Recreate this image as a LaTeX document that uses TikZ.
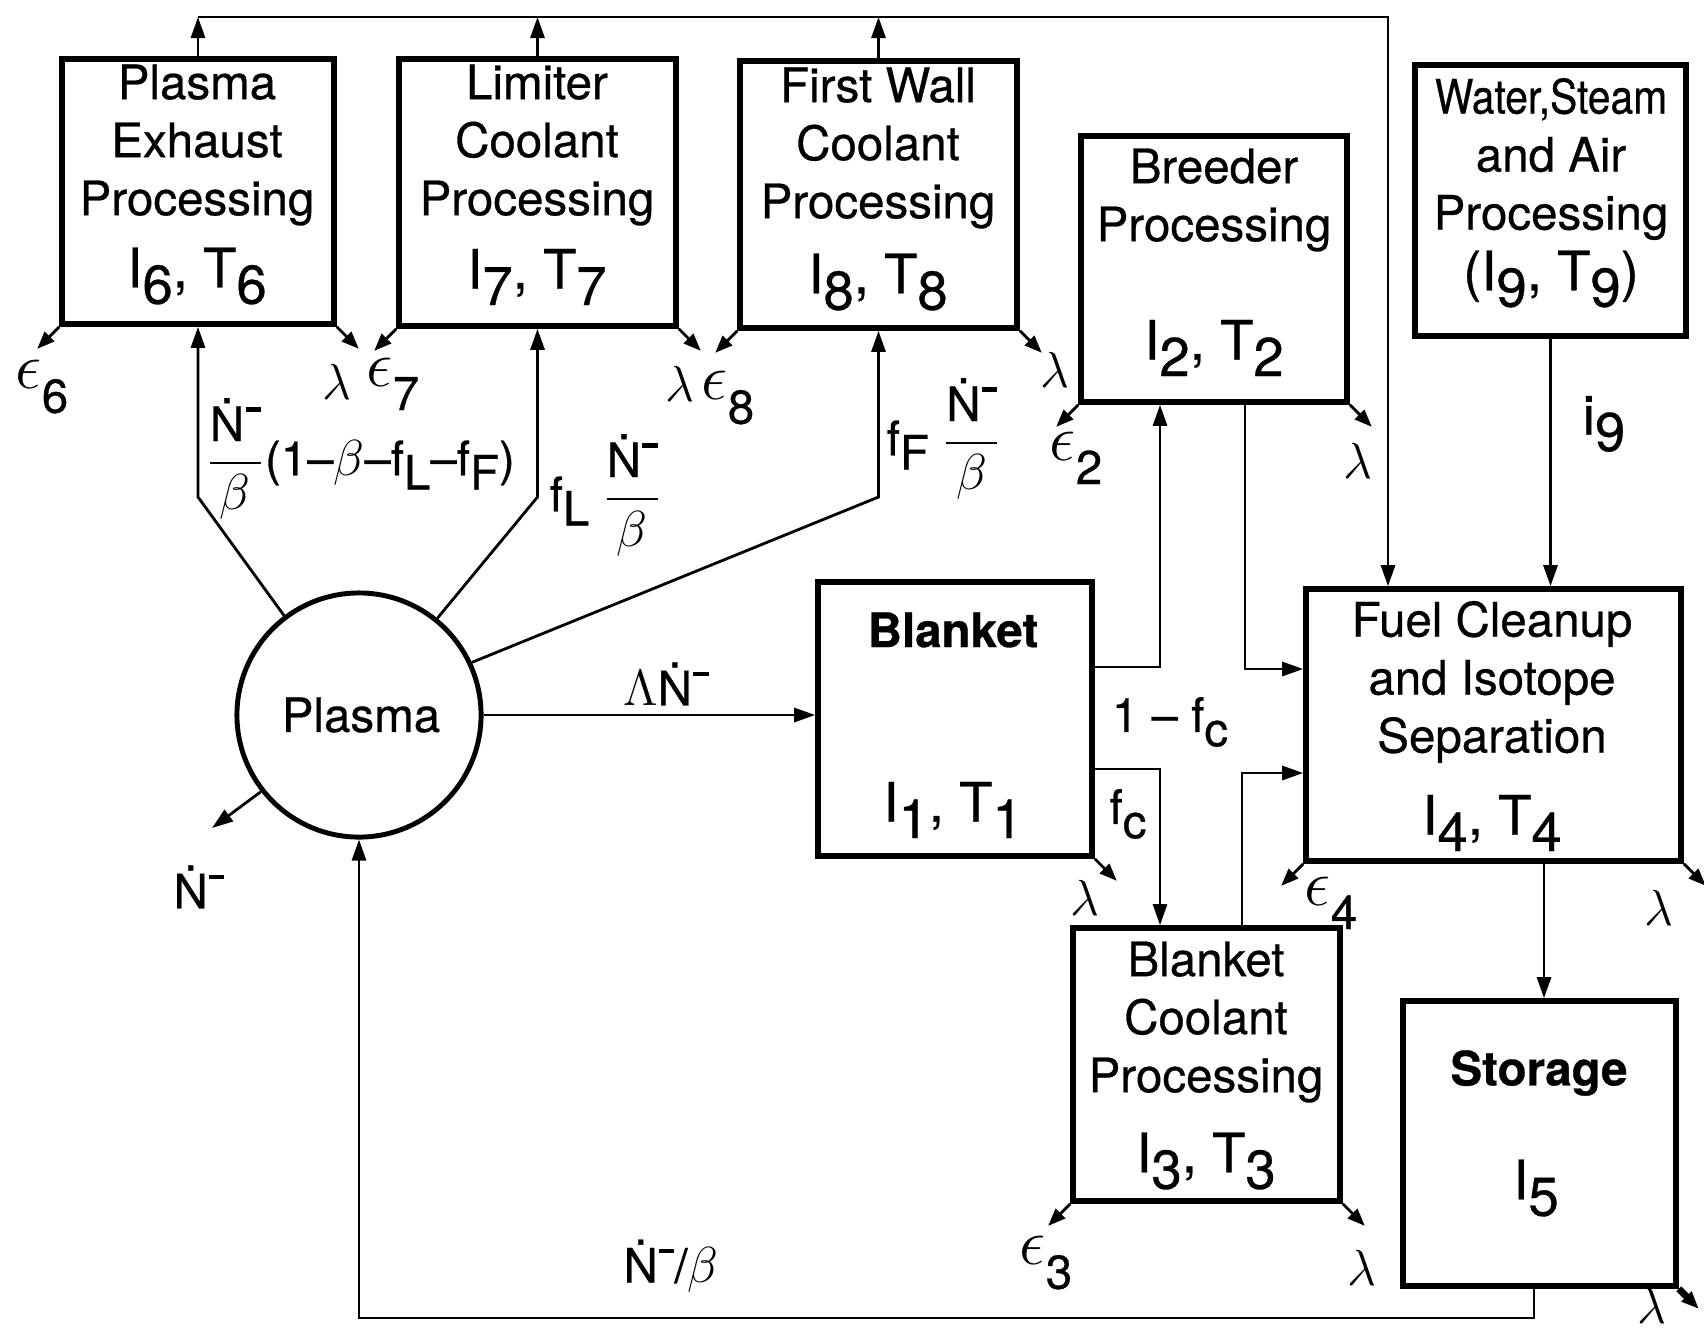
\documentclass[tikz,border=0pt]{standalone}
\usepackage{fontspec}
\usepackage{amsmath}
\usepackage{graphicx}
\setmainfont{TeX Gyre Heros}[FakeBold=0.6]
\usetikzlibrary{arrows.meta,fit}
\newcommand\lo[1]{\raisebox{-0.3em}{#1}}
\newcommand\epsub[1]{\raisebox{0.05em}{\scalebox{1.3}{$\epsilon$}}\raisebox{-0.45em}{#1}}
\newcommand\Nd{\.N\kern0.03em\raisebox{0.62em}{\rule{0.32em}{0.09em}}}
\newcommand\Nb{$\dfrac{\mbox{\Nd}}{\beta}$}
\begin{document}
\begin{tikzpicture}[x=0.01cm,y=-0.01cm,
  box/.style={draw, line width=1.6pt, inner sep=0pt},
  conn/.style={line width=0.8pt},
  arr/.style={conn, -{Triangle[length=6pt,width=4pt]}},
  outarr/.style={conn, -{Triangle[length=5pt,width=3.8pt]}},
  txt/.style={font=\fontsize{13.5}{16.5}\selectfont, align=center, inner sep=0pt},
  idx/.style={font=\fontsize{15.5}{18}\selectfont, inner sep=0pt},
  lab/.style={font=\fontsize{13.5}{16}\selectfont, inner sep=0pt},
  bold/.style={font=\fontsize{13.5}{16.5}\selectfont\bfseries, inner sep=0pt}]
\useasboundingbox (0,0) rectangle (1704,1339);

% boxes
\node[box, fit={(62,59)(334,324)}] (pe) {};
\node[box, fit={(399,59)(676,326)}] (li) {};
\node[box, fit={(740,61)(1017,328)}] (fw) {};
\node[box, fit={(1081,136)(1347,402)}] (br) {};
\node[box, fit={(1415,65)(1686,336)}] (wa) {};
\node[box, fit={(818,582)(1092,856)}] (bl) {};
\node[box, fit={(1306,589)(1681,861)}] (fc) {};
\node[box, fit={(1073,928)(1340,1201)}] (bc) {};
\node[box, fit={(1403,1001)(1676,1286)}] (st) {};
\node[draw, circle, line width=1.4pt, minimum size=2.44cm, inner sep=0pt] (pl) at (359,715) {};

% box texts
\node[txt] (tpe) at (197,145) {Plasma\\Exhaust\\Processing};
\node[idx] (ipe) at (197,276) {I\lo{6}, T\lo{6}};
\node[txt] (tli) at (537,145) {Limiter\\Coolant\\Processing};
\node[idx] (ili) at (537,277) {I\lo{7}, T\lo{7}};
\node[txt] (tfw) at (878,148) {First Wall\\Coolant\\Processing};
\node[idx] (ifw) at (878,282) {I\lo{8}, T\lo{8}};
\node[txt] (tbr) at (1214,200) {Breeder\\Processing};
\node[idx] (ibr) at (1214,348) {I\lo{2}, T\lo{2}};
\node[txt] (twa) at (1551,159) {\scalebox{0.86}[1]{Water,Steam}\\and Air\\Processing};
\node[idx] (iwa) at (1551,279) {(I\lo{9}, T\lo{9})};
\node[bold] (tbl) at (953,630) {Blanket};
\node[idx] (ibl) at (953,810) {I\lo{1}, T\lo{1}};
\node[txt] (tfc) at (1492,682) {Fuel Cleanup\\and Isotope\\Separation};
\node[idx] (ifc) at (1492,823) {I\lo{4}, T\lo{4}};
\node[txt] (tbc) at (1206,1022) {Blanket\\Coolant\\Processing};
\node[idx] (ibc) at (1206,1161) {I\lo{3}, T\lo{3}};
\node[bold] (tst) at (1539,1073) {Storage};
\node[idx] (ist) at (1536,1188) {I\lo{5}};
\node[txt] (tpl) at (361,715) {Plasma};

% top collector line
\coordinate (t1) at (198,17);
\coordinate (t4) at (1388,17);
\draw[arr] (pe.north) -- (pe.north |- t1);
\draw[arr] (li.north) -- (li.north |- t1);
\draw[arr] (fw.north) -- (fw.north |- t1);
\draw[arr] (t1) -- (t4) -- (t4 |- fc.north);

% water to fuel cleanup
\draw[arr] (wa.south) -- (wa.south |- fc.north);
\node[idx] (li9) at (1604,424) {i\lo{9}};

% plasma outputs
\coordinate (k) at (0,497);
\draw[arr] (pl.127) -- (pe.south |- k) -- (pe.south);
\draw[arr] (pl.51) -- (li.south |- k) -- (li.south);
\draw[arr] (pl.25) -- (fw.south |- k) -- (fw.south);
\draw[arr] (pl.east) -- (pl.east -| bl.west);
\coordinate (nout) at (212,828);
\draw[arr] (pl.218) -- (nout);

% blanket and coolant network
\coordinate (a1) at (1160,667);
\draw[arr] (bl.east |- a1) -- (a1) -- (a1 |- br.south);
\coordinate (a2) at (1245,669);
\draw[arr] (a2 |- br.south) -- (a2) -- (a2 -| fc.west);
\coordinate (a3) at (1160,769);
\draw[arr] (bl.east |- a3) -- (a3) -- (a3 |- bc.north);
\coordinate (a4) at (1242,773);
\draw[arr] (a4 |- bc.north) -- (a4) -- (a4 -| fc.west);

% fuel cleanup to storage, storage back to plasma
\coordinate (a5) at (1544,0);
\draw[arr] (a5 |- fc.south) -- (a5 |- st.north);
\coordinate (a6) at (1534,1318);
\draw[arr] (a6 |- st.south) -- (a6) -- (a6 -| pl.south) -- (pl.south);

% loss arrows
\draw[outarr] (pe.south west) -- ++(-22,22);
\draw[outarr] (pe.south east) -- ++(22,22);
\draw[outarr] (li.south west) -- ++(-22,22);
\draw[outarr] (li.south east) -- ++(22,22);
\draw[outarr] (fw.south west) -- ++(-22,22);
\draw[outarr] (fw.south east) -- ++(22,22);
\draw[outarr] (br.south west) -- ++(-22,22);
\draw[outarr] (br.south east) -- ++(22,22);
\draw[outarr] (bl.south east) -- ++(22,22);
\draw[outarr] (fc.south west) -- ++(-22,22);
\draw[outarr] (fc.south east) -- ++(22,22);
\draw[outarr] (bc.south west) -- ++(-22,22);
\draw[outarr] (bc.south east) -- ++(22,22);
\draw[outarr, line width=2pt] (st.south east) -- ++(20,20);

% loss labels
\node[lab] (e6) at (42,387) {\epsub{6}};
\node[lab] (l6) at (337,382) {$\lambda$};
\node[lab] (e7) at (393,384) {\epsub{7}};
\node[lab] (l7) at (680,384) {$\lambda$};
\node[lab] (e8) at (728,398) {\epsub{8}};
\node[lab] (l8) at (1055,370) {$\lambda$};
\node[lab] (e2) at (1076,458) {\epsub{2}};
\node[lab] (l2) at (1358,461) {$\lambda$};
\node[lab] (l1) at (1085,898) {$\lambda$};
\node[lab] (e4) at (1331,903) {\epsub{4}};
\node[lab] (l4) at (1659,908) {$\lambda$};
\node[lab] (e3) at (1046,1263) {\epsub{3}};
\node[lab] (l3) at (1362,1268) {$\lambda$};
\node[lab] (l5) at (1652,1306) {$\lambda$};

% flow labels
\node[lab, anchor=west] (fpe) at (205,459) {\Nb(1--$\beta$--f\lo{L}--f\lo{F})};
\node[lab, anchor=west] (fli) at (549,495) {f\lo{L} \Nb};
\node[lab, anchor=west] (ffw) at (886,439) {f\lo{F} \Nb};
\node[lab] (fbl) at (666,684) {$\Lambda$\Nd};
\node[lab] (fn) at (199,887) {\Nd};
\node[lab] (fret) at (671,1266) {\Nd/$\beta$};
\node[lab] (f1c) at (1170,722) {1 -- f\lo{c}};
\node[lab] (ffc) at (1128,814) {f\lo{c}};
\end{tikzpicture}
\end{document}
